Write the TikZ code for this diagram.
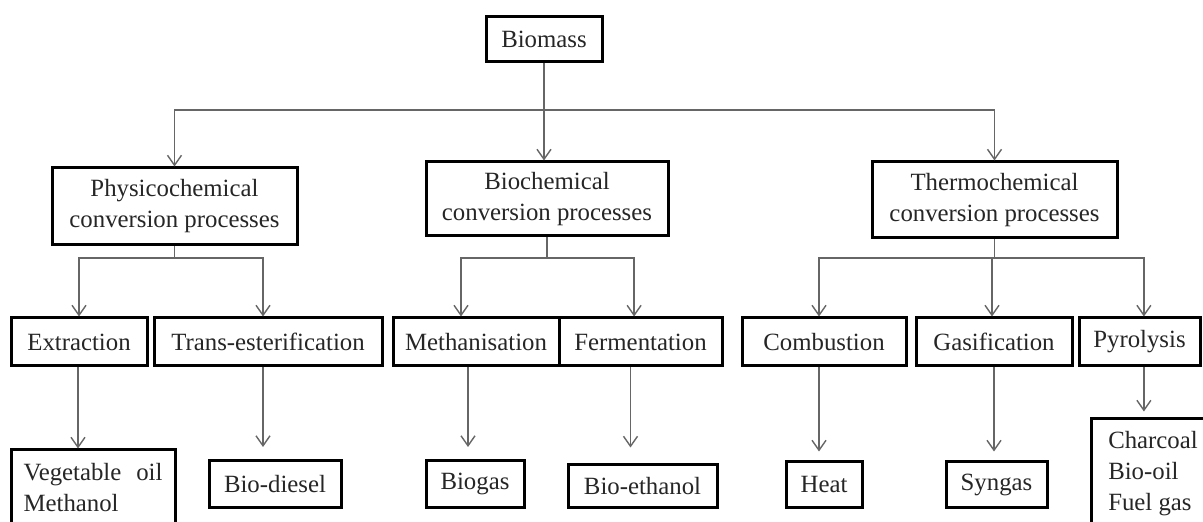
\documentclass[tikz,border=0pt]{standalone}
\usepackage{fontspec}
\setmainfont{Liberation Serif}
\usetikzlibrary{arrows.meta,calc}
\begin{document}
\begin{tikzpicture}[x=0.5pt,y=-0.5pt,
  box/.style={draw=black, line width=1.5pt, rectangle, inner sep=0pt,
    text=black!85, font=\fontsize{12.4}{15.5}\selectfont, align=center},
  wh/.style 2 args={minimum width=#1*0.5pt, minimum height=#2*0.5pt},
  conn/.style={draw=black!60, line width=0.7pt},
  arr/.style={conn, -{Straight Barb[length=5pt,width=7pt]}}]
\useasboundingbox (0,0) rectangle (1203,522);
\fill[white] (0,0) rectangle (1203,522);

% level 0
\node[box, wh={116}{45}] (bio) at (544,39.5) {Biomass};
% level 1
\node[box, wh={245}{77}] (phys) at (174.5,206.5) {Physicochemical\\conversion processes};
\node[box, wh={242}{74}] (bioc) at (547,199) {Biochemical\\conversion processes};
\node[box, wh={245}{76}] (thermo) at (994.5,200) {Thermochemical\\conversion processes};
% level 2
\node[box, wh={136}{48}] (extr) at (79,342) {Extraction};
\node[box, wh={228}{48}] (trans) at (268,342) {Trans-esterification};
\node[box, wh={166}{48}] (meth) at (476,342) {Methanisation};
\node[box, wh={163}{48}] (ferm) at (640.5,342) {Fermentation};
\node[box, wh={164}{48}] (comb) at (824,342) {Combustion};
\node[box, wh={156}{48}] (gasi) at (994,342) {Gasification};
\node[box, wh={121}{48}] (pyro) at (1139.5,342) {Pyrolysis};
% level 3
\node[box, wh={164}{76}, align=left] (veg) at (93,488) {Vegetable\hspace{0.6em}oil\\Methanol};
\node[box, wh={132}{47}] (diesel) at (275,484) {Bio-diesel};
\node[box, wh={98}{47}] (biogas) at (475,484) {Biogas};
\node[box, wh={149}{43}] (ethanol) at (642.5,486.5) {Bio-ethanol};
\node[box, wh={76}{46}] (heat) at (824,485) {Heat};
\node[box, wh={101}{46}] (syngas) at (996.5,485) {Syngas};
\node[box, wh={124}{110}, align=left] (char) at (1153,474) {Charcoal\\Bio-oil\\Fuel gas};

% connectors level 0 -> 1
\coordinate (h1) at (0,110);
\coordinate (h2) at (0,258);
\draw[arr] (bio.south) -- (bio.south |- bioc.north);
\draw[arr] (bio.south |- h1) -| (phys.north);
\draw[arr] (bio.south |- h1) -| (thermo.north);

% level 1 -> 2
\draw[conn] (phys.south) -- (phys.south |- h2);
\draw[arr] (phys.south |- h2) -| (extr.north);
\draw[arr] (phys.south |- h2) -| ([xshift=-2.5pt]trans.north);

\draw[conn] (bioc.south) -- (bioc.south |- h2);
\draw[arr] (bioc.south |- h2) -| ([xshift=-7.5pt]meth.north);
\draw[arr] (bioc.south |- h2) -| ([xshift=-3.2pt]ferm.north);

\draw[conn] (thermo.south) -- (thermo.south |- h2);
\draw[arr] (thermo.south |- h2) -| ([xshift=-2.5pt]comb.north);
\draw[arr] (thermo.south |- h2) -| ([xshift=-1pt]gasi.north);
\draw[arr] (thermo.south |- h2) -| ([xshift=2.2pt]pyro.north);

% level 2 -> 3
\draw[arr] ([xshift=-0.5pt]extr.south) -- ([xshift=-0.5pt]extr.south |- veg.north);
\draw[arr, shorten >=6pt] ([xshift=-2.5pt]trans.south) -- ([xshift=-2.5pt]trans.south |- diesel.north);
\draw[arr, shorten >=6pt] ([xshift=-4pt]meth.south) -- ([xshift=-4pt]meth.south |- biogas.north);
\draw[arr, shorten >=8pt] ([xshift=-5pt]ferm.south) -- ([xshift=-5pt]ferm.south |- ethanol.north);
\draw[arr, shorten >=4.5pt] ([xshift=-2.5pt]comb.south) -- ([xshift=-2.5pt]comb.south |- heat.north);
\draw[arr, shorten >=4.5pt] (gasi.south) -- (gasi.south |- syngas.north);
\draw[arr, shorten >=3pt] ([xshift=2.2pt]pyro.south) -- ([xshift=2.2pt]pyro.south |- char.north);
\end{tikzpicture}
\end{document}
